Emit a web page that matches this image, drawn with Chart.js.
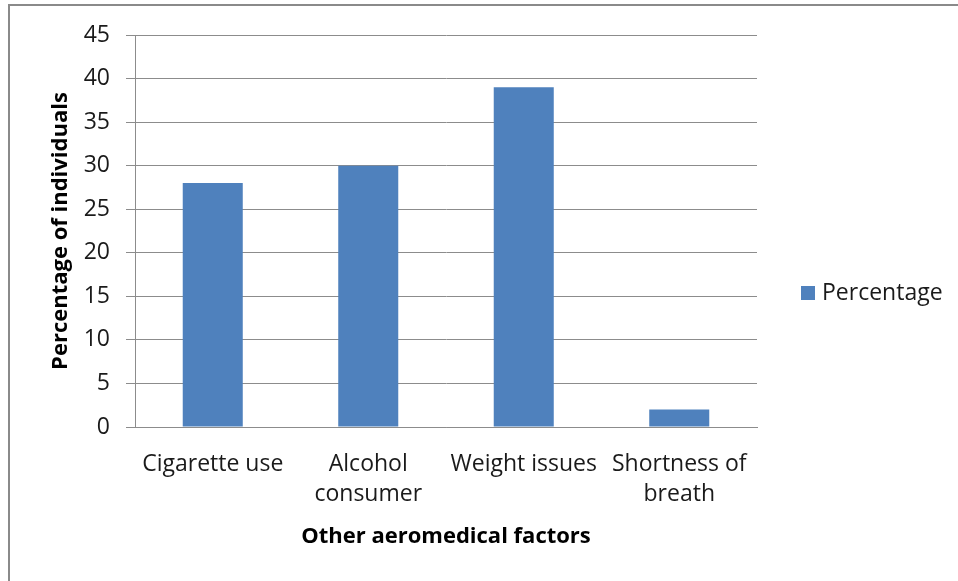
<!DOCTYPE html>
<html>
<head>
<meta charset="utf-8">
<script src="https://cdn.jsdelivr.net/npm/chart.js@4.4.0/dist/chart.umd.min.js"></script>
<style>
  html, body { margin: 0; padding: 0; background: #fff; overflow: hidden; }
  #wrap { position: relative; width: 958px; height: 581px; }
  #frame {
    position: absolute; left: 8px; top: 4px; width: 960px; height: 590px;
    border-left: 2px solid #8a8a8a; border-top: 2px solid #8a8a8a;
    pointer-events: none;
  }
</style>
</head>
<body>
<div id="wrap">
  <canvas id="chart" width="958" height="581"></canvas>
  <div id="frame"></div>
</div>
<script>
const categories = ["Cigarette use", ["Alcohol", "consumer"], "Weight issues", ["Shortness of", "breath"]];
const percentages = [28, 30, 39, 2];
const seriesName = "Percentage";
const barColor = "#4F81BD";
const fontFamily = "'Open Sans', sans-serif";

// legend drawn by hand so the plot area keeps its place
const sideLegend = {
  id: "sideLegend",
  afterDraw(chart) {
    const ctx = chart.ctx;
    const ds = chart.data.datasets[0];
    ctx.save();
    ctx.fillStyle = ds.backgroundColor;
    ctx.fillRect(801, 286, 14, 14);
    ctx.fillStyle = "#1a1a1a";
    ctx.font = "23px " + fontFamily;
    ctx.textBaseline = "middle";
    ctx.fillText(ds.label, 822, 293);
    ctx.restore();
  },
};

const ctx = document.getElementById("chart").getContext("2d");
new Chart(ctx, {
  type: "bar",
  data: {
    labels: categories,
    datasets: [
      {
        label: seriesName,
        data: percentages,
        backgroundColor: barColor,
        borderWidth: 0,
        barPercentage: 0.386,
        categoryPercentage: 1,
      },
    ],
  },
  options: {
    responsive: false,
    animation: false,
    layout: { padding: { top: 35, right: 201, bottom: 0, left: 0 } },
    plugins: {
      legend: { display: false },
      tooltip: { enabled: false },
    },
    scales: {
      x: {
        grid: { display: false, drawTicks: false },
        border: { display: true, color: "#8c8c8c", width: 1 },
        ticks: {
          color: "#1a1a1a",
          padding: 22,
          font: { family: fontFamily, size: 23, lineHeight: 1.33 },
          maxRotation: 0,
          autoSkip: false,
        },
        title: {
          display: true,
          text: "Other aeromedical factors",
          color: "#000",
          font: { family: fontFamily, size: 22, weight: "bold" },
          padding: { top: 0, bottom: 31 },
        },
        afterFit(scale) {
          scale.height = 154;
        },
      },
      y: {
        min: 0,
        max: 45,
        ticks: {
          stepSize: 5,
          color: "#1a1a1a",
          padding: 16,
          font: { family: fontFamily, size: 23 },
        },
        grid: { color: "#8c8c8c", lineWidth: 1, tickLength: 9 },
        border: { display: true, color: "#8c8c8c", width: 1 },
        title: {
          display: true,
          text: "Percentage of individuals",
          color: "#000",
          font: { family: fontFamily, size: 22, weight: "bold" },
          padding: { top: 48, bottom: 0 },
        },
        afterFit(scale) {
          scale.width = 135;
        },
      },
    },
  },
  plugins: [sideLegend],
});
</script>
</body>
</html>
